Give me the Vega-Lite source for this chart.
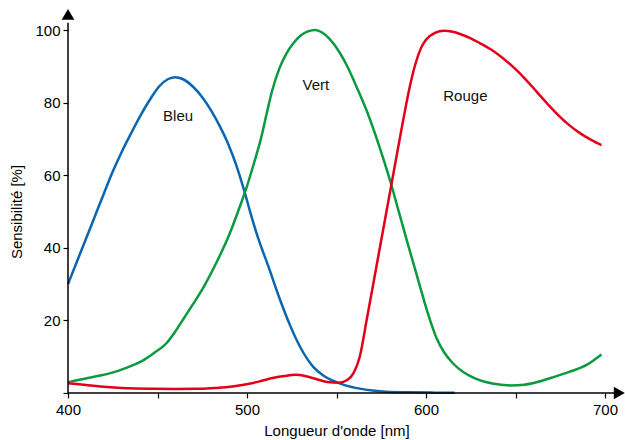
{
  "$schema": "https://vega.github.io/schema/vega-lite/v6.json",
  "width": 537,
  "height": 363,
  "autosize": "none",
  "padding": {"left": 68, "top": 30, "right": 20, "bottom": 47},
  "background": "white",
  "config": {
    "view": {"stroke": null},
    "font": "Liberation Sans",
    "axis": {"labelFont": "Liberation Sans", "titleFont": "Liberation Sans", "labelColor": "black", "titleColor": "black", "tickColor": "black", "domain": false, "grid": false, "labelFontSize": 15, "titleFontSize": 15, "titleFontWeight": "normal", "tickSize": 5, "tickWidth": 1.2, "labelFlush": false}
  },
  "datasets": {
    "curves": [
      {"nm": 400, "v": 30, "c": "Bleu"}, {"nm": 407, "v": 38.7, "c": "Bleu"}, {"nm": 414, "v": 47.4, "c": "Bleu"}, {"nm": 420, "v": 54.9, "c": "Bleu"}, {"nm": 425, "v": 61, "c": "Bleu"}, {"nm": 430, "v": 66.4, "c": "Bleu"}, {"nm": 435, "v": 71.3, "c": "Bleu"}, {"nm": 440, "v": 76, "c": "Bleu"}, {"nm": 446, "v": 81, "c": "Bleu"}, {"nm": 451, "v": 84.5, "c": "Bleu"}, {"nm": 456, "v": 86.5, "c": "Bleu"}, {"nm": 460, "v": 87, "c": "Bleu"}, {"nm": 464, "v": 86.5, "c": "Bleu"}, {"nm": 470, "v": 84.3, "c": "Bleu"}, {"nm": 475, "v": 81.5, "c": "Bleu"}, {"nm": 480, "v": 77.8, "c": "Bleu"}, {"nm": 485, "v": 73.3, "c": "Bleu"}, {"nm": 490, "v": 68, "c": "Bleu"}, {"nm": 494, "v": 62.8, "c": "Bleu"}, {"nm": 498, "v": 56.5, "c": "Bleu"}, {"nm": 502, "v": 49.5, "c": "Bleu"}, {"nm": 506, "v": 43, "c": "Bleu"}, {"nm": 512, "v": 34.8, "c": "Bleu"}, {"nm": 518, "v": 26.3, "c": "Bleu"}, {"nm": 524, "v": 18.7, "c": "Bleu"}, {"nm": 530, "v": 12.4, "c": "Bleu"}, {"nm": 537, "v": 7.2, "c": "Bleu"}, {"nm": 543, "v": 4.7, "c": "Bleu"}, {"nm": 548, "v": 3.4, "c": "Bleu"}, {"nm": 555, "v": 2.1, "c": "Bleu"}, {"nm": 563, "v": 1.2, "c": "Bleu"}, {"nm": 570, "v": 0.7, "c": "Bleu"}, {"nm": 578, "v": 0.35, "c": "Bleu"}, {"nm": 590, "v": 0.2, "c": "Bleu"}, {"nm": 605, "v": 0.1, "c": "Bleu"}, {"nm": 616, "v": 0.05, "c": "Bleu"},
      {"nm": 400, "v": 3, "c": "Vert"}, {"nm": 410, "v": 4, "c": "Vert"}, {"nm": 418, "v": 4.8, "c": "Vert"}, {"nm": 428, "v": 6.1, "c": "Vert"}, {"nm": 436, "v": 7.6, "c": "Vert"}, {"nm": 442, "v": 9, "c": "Vert"}, {"nm": 448, "v": 11, "c": "Vert"}, {"nm": 455, "v": 13.7, "c": "Vert"}, {"nm": 460, "v": 17, "c": "Vert"}, {"nm": 465, "v": 20.8, "c": "Vert"}, {"nm": 470, "v": 24.6, "c": "Vert"}, {"nm": 476, "v": 29.4, "c": "Vert"}, {"nm": 483, "v": 36, "c": "Vert"}, {"nm": 490, "v": 43.5, "c": "Vert"}, {"nm": 495, "v": 50, "c": "Vert"}, {"nm": 500, "v": 57, "c": "Vert"}, {"nm": 504, "v": 63.5, "c": "Vert"}, {"nm": 508, "v": 70.5, "c": "Vert"}, {"nm": 511, "v": 77, "c": "Vert"}, {"nm": 514, "v": 83.2, "c": "Vert"}, {"nm": 518, "v": 89.3, "c": "Vert"}, {"nm": 522, "v": 93.5, "c": "Vert"}, {"nm": 526, "v": 96.4, "c": "Vert"}, {"nm": 530, "v": 98.5, "c": "Vert"}, {"nm": 534, "v": 99.6, "c": "Vert"}, {"nm": 538, "v": 100, "c": "Vert"}, {"nm": 542, "v": 99.3, "c": "Vert"}, {"nm": 546, "v": 97.6, "c": "Vert"}, {"nm": 552, "v": 93.6, "c": "Vert"}, {"nm": 556, "v": 90, "c": "Vert"}, {"nm": 560, "v": 85.7, "c": "Vert"}, {"nm": 567, "v": 77.6, "c": "Vert"}, {"nm": 574, "v": 67.8, "c": "Vert"}, {"nm": 580, "v": 58.4, "c": "Vert"}, {"nm": 585, "v": 49.6, "c": "Vert"}, {"nm": 590, "v": 40.8, "c": "Vert"}, {"nm": 596, "v": 30.5, "c": "Vert"}, {"nm": 601, "v": 22, "c": "Vert"}, {"nm": 606, "v": 15, "c": "Vert"}, {"nm": 610, "v": 11.3, "c": "Vert"}, {"nm": 615, "v": 8.2, "c": "Vert"}, {"nm": 621, "v": 5.7, "c": "Vert"}, {"nm": 628, "v": 3.9, "c": "Vert"}, {"nm": 637, "v": 2.6, "c": "Vert"}, {"nm": 647, "v": 2.1, "c": "Vert"}, {"nm": 655, "v": 2.3, "c": "Vert"}, {"nm": 662, "v": 3, "c": "Vert"}, {"nm": 670, "v": 4.2, "c": "Vert"}, {"nm": 680, "v": 5.8, "c": "Vert"}, {"nm": 690, "v": 7.8, "c": "Vert"}, {"nm": 698, "v": 10.6, "c": "Vert"},
      {"nm": 400, "v": 2.7, "c": "Rouge"}, {"nm": 410, "v": 2.2, "c": "Rouge"}, {"nm": 418, "v": 1.8, "c": "Rouge"}, {"nm": 430, "v": 1.4, "c": "Rouge"}, {"nm": 446, "v": 1.15, "c": "Rouge"}, {"nm": 460, "v": 1.1, "c": "Rouge"}, {"nm": 474, "v": 1.15, "c": "Rouge"}, {"nm": 483, "v": 1.4, "c": "Rouge"}, {"nm": 492, "v": 1.8, "c": "Rouge"}, {"nm": 502, "v": 2.6, "c": "Rouge"}, {"nm": 510, "v": 3.6, "c": "Rouge"}, {"nm": 515, "v": 4.2, "c": "Rouge"}, {"nm": 521, "v": 4.7, "c": "Rouge"}, {"nm": 527, "v": 5.0, "c": "Rouge"}, {"nm": 533, "v": 4.6, "c": "Rouge"}, {"nm": 539, "v": 3.8, "c": "Rouge"}, {"nm": 545, "v": 3.0, "c": "Rouge"}, {"nm": 551, "v": 2.8, "c": "Rouge"}, {"nm": 556, "v": 3.6, "c": "Rouge"}, {"nm": 559.5, "v": 5.5, "c": "Rouge"}, {"nm": 563, "v": 10, "c": "Rouge"}, {"nm": 567, "v": 20.5, "c": "Rouge"}, {"nm": 572, "v": 34, "c": "Rouge"}, {"nm": 577, "v": 47.5, "c": "Rouge"}, {"nm": 582, "v": 61, "c": "Rouge"}, {"nm": 587, "v": 74.5, "c": "Rouge"}, {"nm": 591, "v": 84.5, "c": "Rouge"}, {"nm": 594, "v": 90.5, "c": "Rouge"}, {"nm": 597, "v": 94.8, "c": "Rouge"}, {"nm": 600, "v": 97.3, "c": "Rouge"}, {"nm": 605, "v": 99.2, "c": "Rouge"}, {"nm": 610, "v": 99.8, "c": "Rouge"}, {"nm": 615, "v": 99.5, "c": "Rouge"}, {"nm": 619, "v": 98.9, "c": "Rouge"}, {"nm": 625, "v": 97.7, "c": "Rouge"}, {"nm": 630, "v": 96.4, "c": "Rouge"}, {"nm": 637, "v": 94.4, "c": "Rouge"}, {"nm": 643, "v": 92.2, "c": "Rouge"}, {"nm": 650, "v": 89.2, "c": "Rouge"}, {"nm": 656, "v": 86.2, "c": "Rouge"}, {"nm": 662, "v": 82.9, "c": "Rouge"}, {"nm": 668, "v": 79.6, "c": "Rouge"}, {"nm": 674, "v": 76.5, "c": "Rouge"}, {"nm": 680, "v": 73.8, "c": "Rouge"}, {"nm": 686, "v": 71.6, "c": "Rouge"}, {"nm": 692, "v": 69.8, "c": "Rouge"}, {"nm": 698, "v": 68.3, "c": "Rouge"}
    ],
    "labels": [
      {"nm": 461.5, "v": 76.3, "c": "Bleu"},
      {"nm": 538.5, "v": 84.8, "c": "Vert"},
      {"nm": 622, "v": 81.8, "c": "Rouge"}
    ],
    "axes": [
      {"x": 400, "x2": 706, "y": 0, "y2": 0},
      {"x": 400, "x2": 400, "y": 0, "y2": 102}
    ],
    "arrows": [
      {"x": 708, "y": 0, "s": "triangle-right"},
      {"x": 400, "y": 104.3, "s": "triangle-up"}
    ]
  },
  "layer": [
    {
      "data": {"name": "curves"},
      "mark": {"type": "line", "interpolate": "monotone", "strokeWidth": 2.5},
      "encoding": {
        "x": {"field": "nm", "type": "quantitative", "scale": {"domain": [400, 700], "nice": false, "zero": false},
              "axis": {"values": [400, 450, 500, 550, 600, 650, 700], "labelExpr": "datum.value % 100 == 0 ? datum.label : ''", "title": "Longueur d'onde [nm]", "labelPadding": 4, "titlePadding": 6}},
        "y": {"field": "v", "type": "quantitative", "scale": {"domain": [0, 100], "nice": false},
              "axis": {"values": [0, 20, 40, 60, 80, 100], "labelExpr": "datum.value == 0 ? '' : datum.label", "title": "Sensibilité [%]", "labelPadding": 3, "titlePadding": 10}},
        "color": {"field": "c", "type": "nominal", "legend": null, "scale": {"domain": ["Bleu", "Vert", "Rouge"], "range": ["#0a66b0", "#0a9a40", "#e2001a"]}},
        "detail": {"field": "c"}
      }
    },
    {
      "data": {"name": "labels"},
      "mark": {"type": "text", "fontSize": 15, "font": "Liberation Sans", "color": "#111111", "align": "center", "baseline": "middle"},
      "encoding": {
        "x": {"field": "nm", "type": "quantitative"},
        "y": {"field": "v", "type": "quantitative"},
        "text": {"field": "c"}
      }
    },
    {
      "data": {"name": "axes"},
      "mark": {"type": "rule", "color": "black", "strokeWidth": 1.5},
      "encoding": {
        "x": {"field": "x", "type": "quantitative"},
        "x2": {"field": "x2"},
        "y": {"field": "y", "type": "quantitative"},
        "y2": {"field": "y2"}
      }
    },
    {
      "data": {"name": "arrows"},
      "mark": {"type": "point", "filled": true, "color": "black", "opacity": 1, "size": 160},
      "encoding": {
        "x": {"field": "x", "type": "quantitative"},
        "y": {"field": "y", "type": "quantitative"},
        "shape": {"field": "s", "type": "nominal", "scale": {"domain": ["triangle-right", "triangle-up"], "range": ["triangle-right", "triangle-up"]}, "legend": null}
      }
    }
  ]
}
